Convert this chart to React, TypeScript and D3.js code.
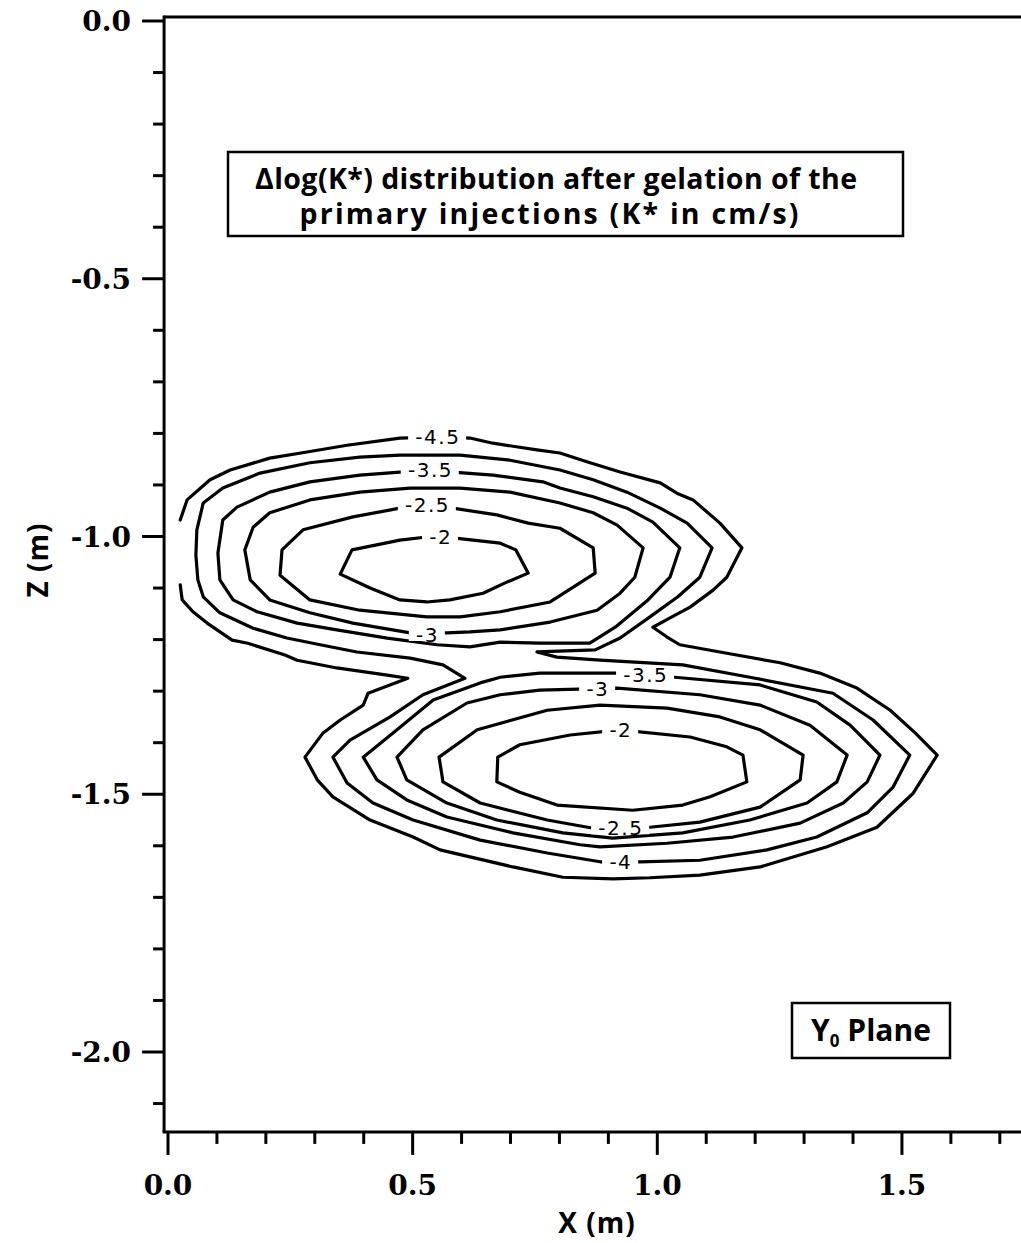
import React from 'react';
import * as d3 from 'd3';

type P = [number, number];

// ---- axis ticks ----
const xMajorTicks = [0, 0.5, 1.0, 1.5];
const xMajorLabels = ['0.0', '0.5', '1.0', '1.5'];
const xMinorTicks = [0.1, 0.2, 0.3, 0.4, 0.6, 0.7, 0.8, 0.9, 1.1, 1.2, 1.3, 1.4, 1.6, 1.7];
const zMajorTicks = [0, -0.5, -1.0, -1.5, -2.0];
const zMajorLabels = ['0.0', '-0.5', '-1.0', '-1.5', '-2.0'];
const zMinorTicks = [-0.1, -0.2, -0.3, -0.4, -0.6, -0.7, -0.8, -0.9, -1.1, -1.2, -1.3, -1.4, -1.6, -1.7, -1.8, -1.9, -2.1];

// ---- contour polylines (X m, Z m) ----
const upperM2: P[] = [[0.352,-1.073],[0.376,-1.026],[0.474,-1.007],[0.529,-1.001],[0.587,-1.003],[0.679,-1.013],[0.711,-1.026],[0.736,-1.071],[0.689,-1.090],[0.644,-1.110],[0.576,-1.123],[0.529,-1.127],[0.474,-1.123],[0.413,-1.100],[0.352,-1.073]];
const upperM25: P[] = [[0.229,-1.075],[0.233,-1.026],[0.276,-0.987],[0.378,-0.962],[0.474,-0.945],[0.582,-0.945],[0.672,-0.958],[0.736,-0.974],[0.801,-0.984],[0.869,-1.022],[0.873,-1.071],[0.781,-1.127],[0.679,-1.146],[0.597,-1.156],[0.529,-1.156],[0.392,-1.143],[0.290,-1.123],[0.229,-1.075]];
const upperM3: P[] = [[0.157,-1.026],[0.168,-1.084],[0.208,-1.123],[0.290,-1.148],[0.378,-1.168],[0.495,-1.187],[0.570,-1.187],[0.617,-1.185],[0.679,-1.181],[0.781,-1.166],[0.877,-1.143],[0.924,-1.110],[0.954,-1.079],[0.971,-1.022],[0.918,-0.978],[0.869,-0.954],[0.801,-0.935],[0.699,-0.914],[0.597,-0.906],[0.495,-0.906],[0.392,-0.914],[0.290,-0.929],[0.208,-0.954],[0.174,-0.982],[0.157,-1.026]];
const upperM35: P[] = [[0.102,-1.032],[0.112,-0.968],[0.141,-0.943],[0.208,-0.914],[0.290,-0.894],[0.392,-0.881],[0.474,-0.875],[0.582,-0.875],[0.664,-0.881],[0.766,-0.894],[0.801,-0.906],[0.869,-0.923],[0.938,-0.945],[0.991,-0.972],[1.046,-1.022],[1.026,-1.079],[0.981,-1.123],[0.914,-1.176],[0.862,-1.207],[0.760,-1.207],[0.679,-1.205],[0.617,-1.214],[0.550,-1.210],[0.448,-1.197],[0.345,-1.181],[0.264,-1.168],[0.182,-1.146],[0.133,-1.123],[0.106,-1.084],[0.102,-1.032]];
const lowerM2: P[] = [[0.674,-1.428],[0.719,-1.404],[0.822,-1.385],[0.924,-1.375],[1.067,-1.389],[1.142,-1.408],[1.175,-1.424],[1.183,-1.476],[1.108,-1.505],[1.052,-1.521],[0.950,-1.531],[0.795,-1.521],[0.719,-1.496],[0.672,-1.476],[0.674,-1.428]];
const lowerM25: P[] = [[0.554,-1.428],[0.632,-1.375],[0.775,-1.337],[0.883,-1.327],[1.020,-1.333],[1.128,-1.350],[1.210,-1.375],[1.298,-1.424],[1.292,-1.472],[1.210,-1.525],[1.087,-1.554],[0.985,-1.564],[0.869,-1.566],[0.775,-1.550],[0.638,-1.517],[0.562,-1.476],[0.554,-1.428]];
const lowerM3: P[] = [[0.468,-1.428],[0.521,-1.375],[0.611,-1.323],[0.679,-1.307],[0.760,-1.298],[0.918,-1.294],[1.087,-1.307],[1.210,-1.327],[1.312,-1.366],[1.388,-1.424],[1.367,-1.476],[1.306,-1.517],[1.189,-1.550],[1.052,-1.575],[0.909,-1.585],[0.807,-1.575],[0.672,-1.550],[0.570,-1.517],[0.488,-1.472],[0.468,-1.428]];
const lowerM35: P[] = [[0.399,-1.428],[0.468,-1.375],[0.542,-1.317],[0.638,-1.284],[0.679,-1.273],[0.760,-1.265],[0.920,-1.265],[1.036,-1.273],[1.210,-1.288],[1.326,-1.321],[1.394,-1.366],[1.455,-1.424],[1.429,-1.476],[1.380,-1.517],[1.292,-1.556],[1.155,-1.583],[1.020,-1.595],[0.883,-1.602],[0.842,-1.598],[0.705,-1.575],[0.570,-1.544],[0.488,-1.511],[0.427,-1.472],[0.399,-1.428]];
const mergedM4: P[] = [[0.059,-0.987],[0.072,-0.935],[0.112,-0.906],[0.188,-0.877],[0.290,-0.857],[0.392,-0.846],[0.474,-0.842],[0.597,-0.842],[0.699,-0.852],[0.801,-0.871],[0.869,-0.890],[0.938,-0.914],[1.006,-0.945],[1.061,-0.974],[1.112,-1.022],[1.087,-1.079],[1.042,-1.117],[0.985,-1.156],[0.924,-1.197],[0.873,-1.220],[0.754,-1.224],[0.795,-1.234],[0.883,-1.240],[1.052,-1.249],[1.189,-1.273],[1.359,-1.304],[1.441,-1.356],[1.516,-1.424],[1.482,-1.486],[1.429,-1.536],[1.326,-1.583],[1.224,-1.608],[1.087,-1.628],[0.965,-1.631],[0.883,-1.631],[0.775,-1.614],[0.638,-1.589],[0.501,-1.550],[0.419,-1.517],[0.366,-1.478],[0.337,-1.428],[0.372,-1.395],[0.454,-1.350],[0.521,-1.307],[0.607,-1.275],[0.562,-1.249],[0.495,-1.236],[0.386,-1.224],[0.311,-1.210],[0.243,-1.197],[0.174,-1.178],[0.106,-1.148],[0.072,-1.117],[0.061,-1.084],[0.057,-1.036],[0.059,-0.987]];
const mergedM45: P[] = [[0.025,-0.968],[0.039,-0.929],[0.086,-0.890],[0.127,-0.871],[0.208,-0.848],[0.284,-0.836],[0.366,-0.823],[0.474,-0.809],[0.550,-0.807],[0.617,-0.809],[0.664,-0.819],[0.754,-0.832],[0.801,-0.838],[0.856,-0.855],[0.924,-0.875],[1.006,-0.896],[1.040,-0.916],[1.073,-0.929],[1.128,-0.974],[1.173,-1.022],[1.142,-1.079],[1.114,-1.104],[1.067,-1.137],[1.026,-1.158],[0.991,-1.176],[1.020,-1.195],[1.046,-1.210],[1.128,-1.224],[1.251,-1.245],[1.332,-1.265],[1.408,-1.294],[1.476,-1.337],[1.527,-1.381],[1.572,-1.424],[1.523,-1.498],[1.449,-1.564],[1.347,-1.602],[1.210,-1.641],[1.087,-1.657],[0.985,-1.662],[0.909,-1.664],[0.807,-1.661],[0.705,-1.641],[0.556,-1.608],[0.501,-1.583],[0.413,-1.550],[0.337,-1.505],[0.305,-1.472],[0.280,-1.428],[0.317,-1.381],[0.352,-1.356],[0.399,-1.327],[0.409,-1.304],[0.490,-1.275],[0.448,-1.269],[0.345,-1.255],[0.264,-1.240],[0.239,-1.230],[0.163,-1.207],[0.131,-1.201],[0.080,-1.168],[0.051,-1.146],[0.029,-1.123],[0.025,-1.094]];

const contours: { level: number; pts: P[] }[] = [
  { level: -2, pts: upperM2 },
  { level: -2.5, pts: upperM25 },
  { level: -3, pts: upperM3 },
  { level: -3.5, pts: upperM35 },
  { level: -2, pts: lowerM2 },
  { level: -2.5, pts: lowerM25 },
  { level: -3, pts: lowerM3 },
  { level: -3.5, pts: lowerM35 },
  { level: -4, pts: mergedM4 },
  { level: -4.5, pts: mergedM45 },
];

// ---- contour labels ----
const labelTexts = ['-4.5', '-3.5', '-2.5', '-2', '-3', '-3.5', '-3', '-2', '-2.5', '-4'];
const labelX = [0.550, 0.535, 0.529, 0.556, 0.529, 0.975, 0.877, 0.924, 0.924, 0.924];
const labelZ = [-0.807, -0.871, -0.939, -1.001, -1.191, -1.269, -1.296, -1.375, -1.566, -1.631];

const titleLines = ['\u0394log(K*) distribution after gelation of the', 'primary injections (K* in cm/s)'];

export default function App() {
  const W = 1021;
  const H = 1243;
  const x = d3.scaleLinear().domain([0, 1.7]).range([168, 168 + 1.7 * 489.3]);
  const y = d3.scaleLinear().domain([0, -2]).range([21, 1052]);
  const line = d3.line<P>().x((d) => x(d[0])).y((d) => y(d[1]));

  const axX = x(-0.008);
  const axTop = y(0.008);
  const axBottom = y(-2.155);
  const sw = 3;
  const serif = '"DejaVu Serif", serif';
  const sans = '"Open Sans", "DejaVu Sans", sans-serif';

  return (
    <svg
      width={W}
      height={H}
      viewBox={`0 0 ${W} ${H}`}
      style={{ position: 'absolute', left: 0, top: 0, display: 'block', background: '#fff' }}
    >
      <rect x={0} y={0} width={W} height={H} fill="#fff" />

      {/* contours */}
      <g fill="none" stroke="#000" strokeWidth={3.2} strokeLinejoin="round" strokeLinecap="round">
        {contours.map((c, i) => (
          <path key={i} d={line(c.pts) || ''} />
        ))}
      </g>

      {/* contour labels */}
      <g>
        {labelTexts.map((t, i) => {
          const cx = x(labelX[i]);
          const cy = y(labelZ[i]);
          const w = t.length * 11 + 14;
          return (
            <g key={i}>
              <rect x={cx - w / 2} y={cy - 6} width={w} height={12} fill="#fff" />
              <text
                x={cx + 0.75}
                y={cy}
                dy="0.36em"
                textAnchor="middle"
                fontFamily='"DejaVu Sans", sans-serif'
                fontSize={20}
                letterSpacing={1.5}
                fill="#000"
              >
                {t}
              </text>
            </g>
          );
        })}
      </g>

      {/* frame / axes */}
      <g stroke="#000" strokeWidth={sw} fill="none">
        <line x1={axX} y1={axTop} x2={W + 5} y2={axTop} />
        <line x1={axX} y1={axTop - 1.5} x2={axX} y2={axBottom} />
        <line x1={axX - 1.5} y1={axBottom} x2={W + 5} y2={axBottom} />
        {zMajorTicks.map((v) => (
          <line key={'zM' + v} x1={axX - 22} y1={y(v)} x2={axX} y2={y(v)} />
        ))}
        {zMinorTicks.map((v) => (
          <line key={'zm' + v} x1={axX - 11} y1={y(v)} x2={axX} y2={y(v)} />
        ))}
        {xMajorTicks.map((v) => (
          <line key={'xM' + v} x1={x(v)} y1={axBottom} x2={x(v)} y2={axBottom + 23} />
        ))}
        {xMinorTicks.map((v) => (
          <line key={'xm' + v} x1={x(v)} y1={axBottom} x2={x(v)} y2={axBottom + 12} />
        ))}
      </g>

      {/* tick labels */}
      <g fontFamily={serif} fontWeight="bold" fontSize={28} fill="#000">
        {zMajorTicks.map((v, i) => (
          <text key={'zl' + v} x={131} y={y(v)} dy="0.36em" textAnchor="end">
            {zMajorLabels[i]}
          </text>
        ))}
        {xMajorTicks.map((v, i) => (
          <text key={'xl' + v} x={x(v)} y={1195} textAnchor="middle">
            {xMajorLabels[i]}
          </text>
        ))}
      </g>

      {/* axis titles */}
      <text x={597} y={1233} textAnchor="middle" fontFamily={sans} fontWeight="bold" fontSize={28} letterSpacing={1}>
        X (m)
      </text>
      <text
        transform="translate(48,560) rotate(-90)"
        textAnchor="middle"
        fontFamily={sans}
        fontWeight="bold"
        fontSize={28}
        letterSpacing={1}
      >
        Z (m)
      </text>

      {/* title box */}
      <rect x={228} y={152} width={675} height={84} fill="#fff" stroke="#000" strokeWidth={2.5} />
      <text x={556} y={189} textAnchor="middle" fontFamily={sans} fontWeight="bold" fontSize={28.5} textLength={602} lengthAdjust="spacing">
        {titleLines[0]}
      </text>
      <text x={549} y={224} textAnchor="middle" fontFamily={sans} fontWeight="bold" fontSize={28.5} textLength={499} lengthAdjust="spacing">
        {titleLines[1]}
      </text>

      {/* plane box */}
      <rect x={792} y={1003} width={158} height={55} fill="#fff" stroke="#000" strokeWidth={2.5} />
      <text x={871} y={1041} textAnchor="middle" fontFamily={sans} fontWeight="bold" fontSize={30}>
        Y<tspan fontSize={17} dy={6}>0</tspan>
        <tspan dy={-6}> Plane</tspan>
      </text>
    </svg>
  );
}
